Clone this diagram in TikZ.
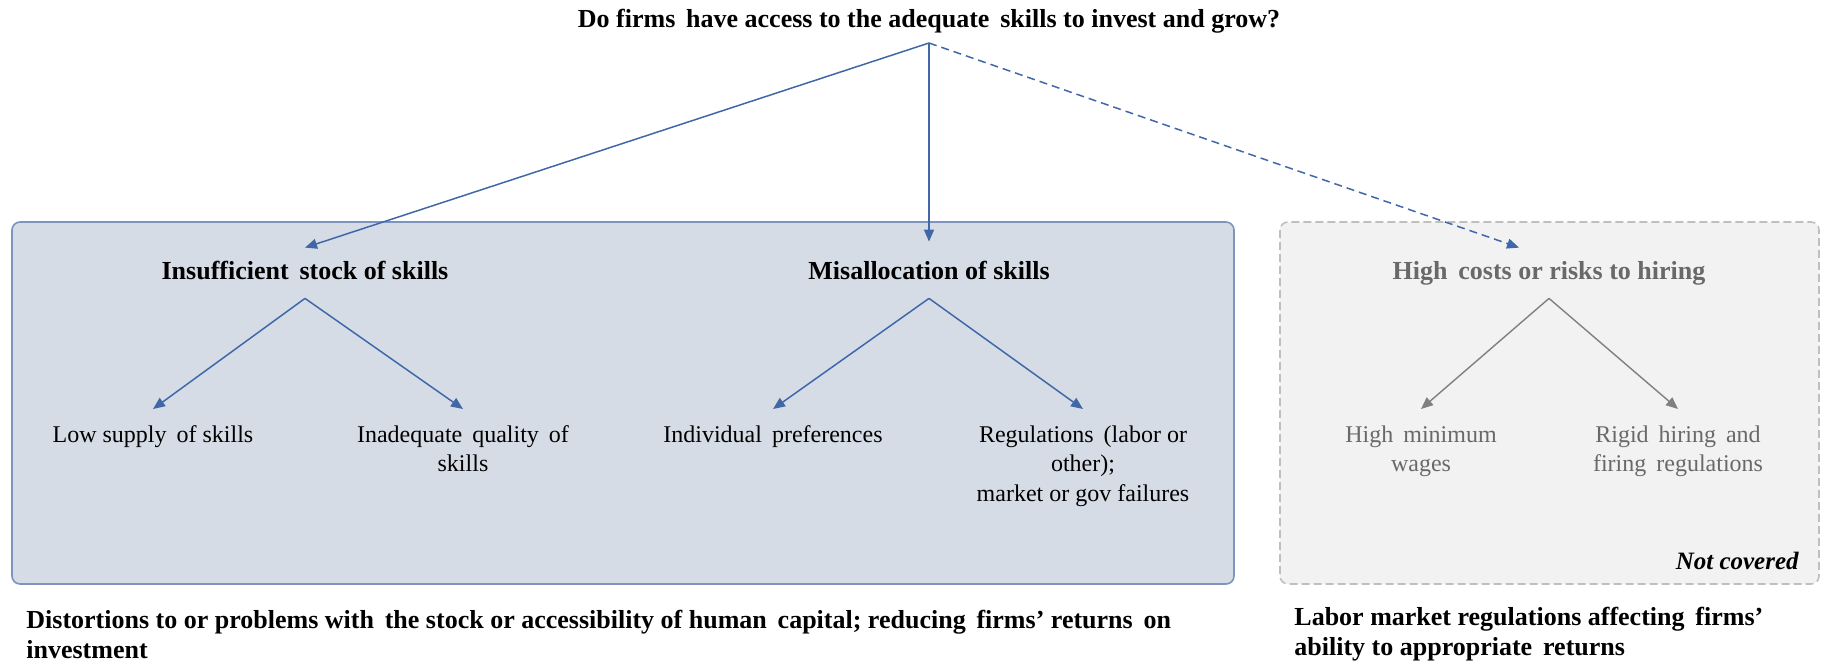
\documentclass[tikz,border=0pt]{standalone}
\usepackage{fontspec}
\setmainfont{Liberation Serif}
\usetikzlibrary{arrows.meta}
\definecolor{panelfill}{RGB}{214,220,229}
\definecolor{panelline}{RGB}{125,148,190}
\definecolor{linkblue}{RGB}{64,104,168}
\definecolor{offfill}{RGB}{242,242,242}
\definecolor{offline}{RGB}{191,191,191}
\definecolor{offtext}{RGB}{105,105,105}
\definecolor{offlink}{RGB}{128,128,128}
\begin{document}
\begin{tikzpicture}[x=0.5pt,y=-0.5pt,
    every node/.style={font=\fontsize{12}{14.8}\selectfont},
    heading/.style={font=\bfseries\fontsize{13}{15}\selectfont,
      text height=9pt,text depth=3pt,inner ysep=6.5pt},
    leaf/.style={anchor=north,align=center,inner ysep=8pt},
    caption/.style={anchor=west,align=left,inner sep=0pt,
      font=\bfseries\fontsize{13}{15}\selectfont},
    link/.style={draw=linkblue,line width=0.75pt,
      -{Triangle[length=6pt,width=5pt]},fill=linkblue},
    offlinkstyle/.style={draw=offlink,line width=0.7pt,
      -{Triangle[length=6pt,width=5pt]},fill=offlink}]
  \useasboundingbox (0,0) rectangle (1825,665);
  \filldraw[fill=panelfill,draw=panelline,line width=0.8pt,rounded corners=4pt]
    (12,222) rectangle (1234,584);
  \filldraw[fill=offfill,draw=offline,line width=0.8pt,dash pattern=on 4pt off 2pt,
    rounded corners=4pt] (1280,222) rectangle (1819,584);
  \node[heading] (goal) at (929,21) {Do firms\, have access to the adequate\, skills to invest and grow?};
  \coordinate (fork) at (929,43);
  \node[heading] (stock) at (305,273) {Insufficient\, stock of skills};
  \node[heading] (misalloc) at (929,273) {Misallocation of skills};
  \node[heading,text=offtext] (costs) at (1549,273) {High\, costs or risks to hiring};
  \node[leaf] (supply) at (153,409) {Low supply\, of skills};
  \node[leaf] (quality) at (463,409) {Inadequate\, quality\, of\\skills};
  \node[leaf] (prefs) at (773,409) {Individual\, preferences};
  \node[leaf] (regs) at (1083,409) {Regulations\, (labor or\\other);\\market or gov failures};
  \node[leaf,text=offtext] (minwage) at (1421,409) {High\, minimum\\wages};
  \node[leaf,text=offtext] (rigid) at (1678,409) {Rigid\, hiring\, and\\firing\, regulations};
  \node[anchor=south east,inner sep=0pt,font=\bfseries\itshape\fontsize{12.5}{14.8}\selectfont]
    (notcov) at (1799,570) {Not covered};
  \node[caption] (leftnote) at (26,634)
    {Distortions to or problems with\, the stock or accessibility of human\, capital; reducing\, firms' returns\, on\\investment};
  \node[caption] (rightnote) at (1294,634)
    {Labor market regulations affecting\, firms'\\ability to appropriate\, returns};
  \begin{scope}[link]
    \draw (fork) -- (stock.north);
    \draw[shorten >=3pt] (fork) -- (misalloc.north);
    \draw[dash pattern=on 4pt off 2.5pt] (fork) -- ([xshift=-15pt]costs.north);
    \draw (stock.south) -- (supply.north);
    \draw (stock.south) -- (quality.north);
    \draw (misalloc.south) -- (prefs.north);
    \draw (misalloc.south) -- (regs.north);
  \end{scope}
  \begin{scope}[offlinkstyle]
    \draw (costs.south) -- (minwage.north);
    \draw (costs.south) -- (rigid.north);
  \end{scope}
\end{tikzpicture}
\end{document}
